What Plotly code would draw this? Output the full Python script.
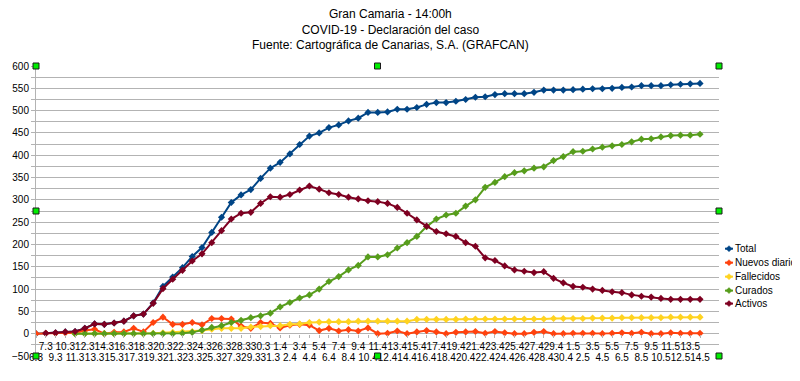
import plotly.graph_objects as go

# ---------------- data ----------------
fechas = ["6.3", "7.3", "9.3", "10.3", "11.3", "12.3", "13.3", "14.3", "15.3", "16.3",
          "17.3", "18.3", "19.3", "20.3", "21.3", "22.3", "23.3", "24.3", "25.3", "26.3",
          "27.3", "28.3", "29.3", "30.3", "31.3", "1.4", "2.4", "3.4", "4.4", "5.4",
          "6.4", "7.4", "8.4", "9.4", "10.4", "11.4", "12.4", "13.4", "14.4", "15.4",
          "16.4", "17.4", "18.4", "19.4", "20.4", "21.4", "22.4", "23.4", "24.4", "25.4",
          "26.4", "27.4", "28.4", "29.4", "30.4", "1.5", "2.5", "3.5", "4.5", "5.5",
          "6.5", "7.5", "8.5", "9.5", "10.5", "11.5", "12.5", "13.5", "14.5"]

total = [0, 1, 2, 4, 5, 12, 22, 21, 24, 28,
         40, 44, 69, 106, 127, 148, 173, 193, 227, 261,
         294, 311, 323, 348, 371, 384, 403, 424, 443, 450,
         462, 468, 477, 483, 496, 496, 497, 503, 503, 507,
         514, 518, 518, 521, 525, 530, 531, 536, 538, 538,
         538, 541, 546, 546, 546, 547, 548, 549, 549, 550,
         552, 553, 556, 556, 556, 558, 559, 560, 561]

nuevos = [0, 1, 1, 2, 1, 7, 10, 0, 3, 4,
          12, 4, 25, 37, 21, 21, 25, 20, 34, 34,
          33, 17, 12, 25, 23, 13, 19, 21, 19, 7,
          12, 6, 9, 6, 13, 0, 1, 6, 0, 4,
          7, 4, 0, 3, 4, 5, 1, 5, 2, 0,
          0, 3, 5, 0, 0, 1, 1, 1, 0, 1,
          2, 1, 3, 0, 0, 2, 1, 1, 1]

fallecidos = [None, None, None, None, 0, 0, 0, 0, 0, 0,
              0, 0, 1, 2, 3, 4, 5, 7, 10, 12,
              12, 12, 15, 16, 18, 18, 21, 22, 25, 26,
              27, 27, 27, 28, 28, 28, 28, 28, 28, 32,
              32, 32, 32, 32, 33, 33, 33, 33, 33, 33,
              33, 33, 33, 34, 34, 34, 34, 35, 35, 35,
              36, 36, 36, 36, 36, 37, 37, 37, 37]

curados = [None, None, None, None, 0, 0, 0, 0, 0, 0,
           0, 0, 0, 0, 0, 1, 3, 8, 14, 18,
           25, 30, 36, 40, 46, 60, 70, 80, 87, 100,
           117, 128, 143, 153, 172, 172, 177, 192, 204, 218,
           240, 257, 266, 270, 286, 300, 328, 339, 352, 361,
           365, 371, 374, 388, 397, 408, 409, 414, 418, 421,
           424, 430, 436, 437, 441, 444, 445, 445, 447]

activos = [None, 1, 2, 4, 5, 12, 22, 21, 24, 28,
           40, 44, 68, 101, 122, 142, 163, 179, 204, 231,
           257, 270, 272, 292, 307, 306, 312, 322, 331, 324,
           316, 312, 306, 302, 298, 296, 292, 283, 270, 255,
           241, 229, 224, 218, 204, 196, 170, 164, 152, 143,
           140, 137, 139, 124, 114, 106, 104, 100, 97, 94,
           92, 87, 84, 82, 79, 77, 77, 77, 77]

nombres = ["Total", "Nuevos diario", "Fallecidos", "Curados", "Activos"]
colores = ["#004586", "#ff420e", "#ffd320", "#579d1c", "#7e0021"]
valores = [total, nuevos, fallecidos, curados, activos]

titulo = ["Gran Camaria - 14:00h",
          "COVID-19 - Declaración del caso",
          "Fuente: Cartográfica de Canarias, S.A. (GRAFCAN)"]

# ---------------- layout geometry ----------------
# The page body has an 8px default margin, so the figure is drawn 8px in from
# the window's top-left corner; page coordinates below are converted for that.
OFF = 8
W, H = 800 - OFF, 381 - OFF
PL, PR, PT, PB = 36, 719, 66, 356.5          # plot area in window pixels
L, R, T, B = PL - OFF, PR - OFF, PT - OFF, PB - OFF
FONT = "Liberation Sans, Arial, sans-serif"
GRID = "#b3b3b3"


def px2paper(px, py):
    """window pixel -> paper coordinates"""
    return (px - PL) / (PR - PL), (PB - py) / (PB - PT)


idx = list(range(len(fechas)))
fig = go.Figure()
for k, (nm, vals, col) in enumerate(zip(nombres, valores, colores)):
    fig.add_trace(go.Scatter(
        x=idx, y=vals, name=nm, mode="lines+markers",
        xaxis="x2" if k == len(nombres) - 1 else "x",
        line=dict(color=col, width=2),
        marker=dict(symbol="diamond", size=5.5, color=col),
        showlegend=False, hoverinfo="x+y+name"))

ymin, ymax = -50, 600
pos0 = (0 - ymin) / (ymax - ymin)
xr = [0, (PR - PL) / ((700 - PL) / 68)]

odd = [i for i in idx if i % 2 == 1]
even = [i for i in idx if i % 2 == 0]

xcommon = dict(range=xr, anchor="free", position=pos0, showgrid=False, zeroline=False,
               showline=False, ticks="outside", ticklen=3, tickcolor=GRID,
               tickfont=dict(family=FONT, size=10, color="#000000"), tickangle=0,
               automargin=False)

fig.update_layout(
    width=W, height=H,
    margin=dict(l=L, r=W - R, t=T, b=H - B, pad=0, autoexpand=False),
    paper_bgcolor="white", plot_bgcolor="white",
    font=dict(family=FONT, size=10, color="#000000"),
    xaxis=dict(**xcommon, tickvals=odd, ticktext=[fechas[i] for i in odd],
               ticklabelstandoff=0),
    xaxis2=dict(**xcommon, overlaying="x", side="bottom", tickvals=even,
                ticktext=[fechas[i] for i in even], ticklabelstandoff=11),
    yaxis=dict(range=[ymin, ymax], tick0=0, dtick=50, showgrid=True, gridcolor=GRID,
               gridwidth=1, zeroline=False, showline=True, linecolor=GRID, linewidth=1,
               ticks="outside", ticklen=4, tickcolor=GRID, automargin=False,
               tickfont=dict(family=FONT, size=10, color="#000000"),
               minor=dict(dtick=25, tick0=0, showgrid=True, gridcolor=GRID, gridwidth=1,
                          ticks="outside", ticklen=4, tickcolor=GRID)),
    showlegend=False,
)

shapes = []
annotations = []

# ---------------- title ----------------
tx, ty = px2paper(390, 5)
annotations.append(dict(text="<br>".join(titulo), xref="paper", yref="paper", x=tx, y=ty,
                        xanchor="center", yanchor="top", showarrow=False, align="center",
                        font=dict(family=FONT, size=12, color="#000000")))

# ---------------- custom legend ----------------
ley_y = [249, 263, 277, 291, 304]
for nm, col, py in zip(nombres, colores, ley_y):
    x0, y0 = px2paper(725, py)
    x1, _ = px2paper(733, py)
    shapes.append(dict(type="line", xref="paper", yref="paper", x0=x0, x1=x1, y0=y0, y1=y0,
                       line=dict(color=col, width=2)))
    cx, cy = 729, py
    pts = [px2paper(cx - 3, cy), px2paper(cx, cy - 3), px2paper(cx + 3, cy), px2paper(cx, cy + 3)]
    path = "M " + " L ".join(f"{a},{b}" for a, b in pts) + " Z"
    shapes.append(dict(type="path", xref="paper", yref="paper", path=path,
                       fillcolor=col, line=dict(color=col, width=0.5)))
    lx, ly = px2paper(733, py)
    annotations.append(dict(text=nm, xref="paper", yref="paper", x=lx, y=ly,
                            xanchor="left", yanchor="middle", showarrow=False,
                            font=dict(family=FONT, size=10, color="#000000")))

# ---------------- selection handles ----------------
for hx, hy in [(0, 0), (0.5, 0), (1, 0), (0, 0.5), (1, 0.5), (0, 1), (0.5, 1), (1, 1)]:
    shapes.append(dict(type="rect", xref="paper", yref="paper",
                       xsizemode="pixel", ysizemode="pixel",
                       xanchor=hx, yanchor=hy, x0=-3, x1=3, y0=-3, y1=3,
                       fillcolor="#00ee00", line=dict(color="#1a1a1a", width=1)))

fig.update_layout(shapes=shapes, annotations=annotations)
fig.write_html("out.html")
